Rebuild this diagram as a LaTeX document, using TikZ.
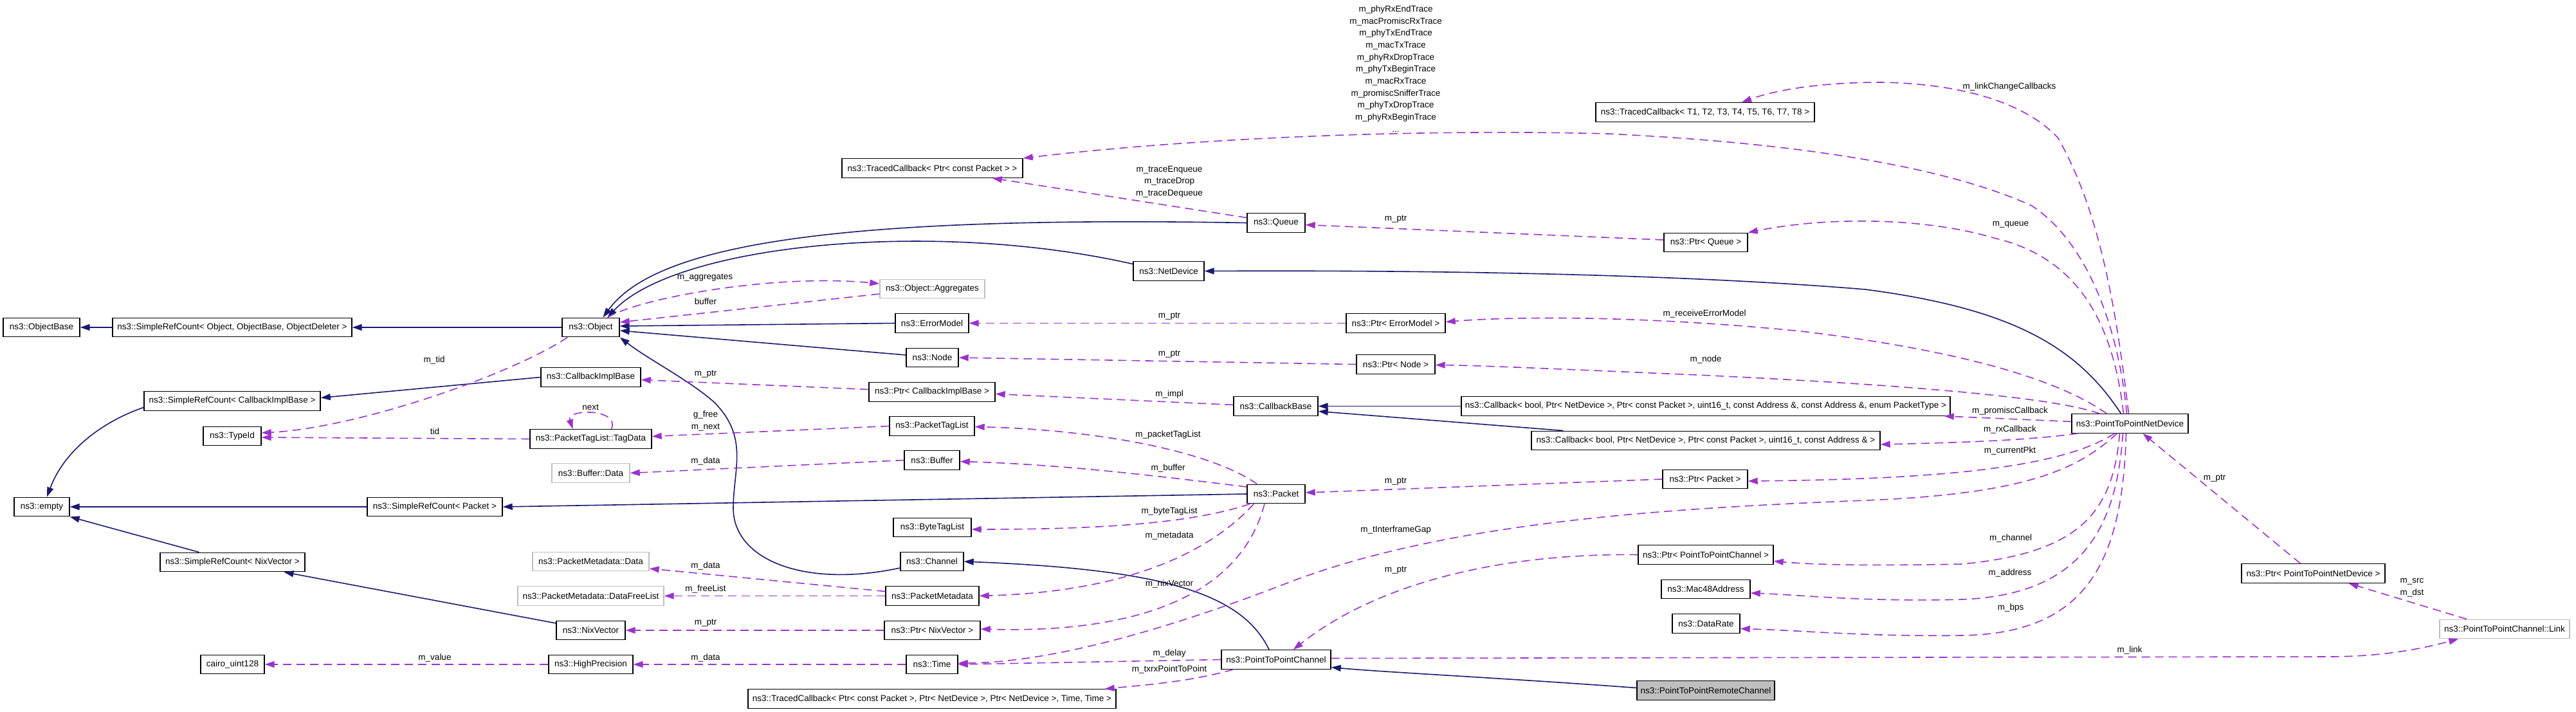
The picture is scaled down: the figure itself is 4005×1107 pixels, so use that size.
\documentclass[tikz,border=0pt]{standalone}
\usepackage{fontspec}
\newfontfamily\dfont{Liberation Sans}
\usetikzlibrary{arrows.meta,calc}
\definecolor{mblue}{HTML}{191970}
\definecolor{purp}{HTML}{9A32CD}
\definecolor{lgray}{HTML}{BFBFBF}
\begin{document}
\begin{tikzpicture}[x=0.5pt,y=-0.5pt,
  cls/.style={draw=black, line width=0.7pt, inner sep=0pt, minimum height=14.75pt, font=\dfont\fontsize{6.75}{8}\selectfont},
  gcls/.style={cls, draw=lgray},
  lbl/.style={inner sep=0pt, font=\dfont\fontsize{6.75}{9.33}\selectfont, align=center},
  inhedge/.style={draw=mblue, line width=0.8pt, -{Triangle[length=7.5pt,width=5pt]}},
  usedge/.style={draw=purp, line width=0.8pt, dash pattern=on 6.5pt off 4pt, -{Triangle[length=7.5pt,width=5pt]}}
]
\useasboundingbox (0,0) rectangle (4005,1107);
% ---------------- classes
\node[cls, minimum width=59.5pt] (objbase) at (64.5,509) {ns3::ObjectBase};
\node[cls, minimum width=186pt] (srcObj) at (361,509) {ns3::SimpleRefCount< Object, ObjectBase, ObjectDeleter >};
\node[cls, minimum width=44.5pt] (object) at (918.5,509) {ns3::Object};
\node[cls, minimum width=140.5pt] (tcpkt) at (1449.5,261.5) {ns3::TracedCallback< Ptr< const Packet > >};
\node[cls, minimum width=45pt] (queue) at (1984,346.5) {ns3::Queue};
\node[cls, minimum width=170pt] (tceight) at (2651,174.5) {ns3::TracedCallback< T1, T2, T3, T4, T5, T6, T7, T8 >};
\node[cls, minimum width=65pt] (ptrQueue) at (2652,377) {ns3::Ptr< Queue >};
\node[cls, minimum width=55pt] (netdev) at (1817,421.5) {ns3::NetDevice};
\node[gcls, minimum width=81.5pt] (aggr) at (1449.5,449) {ns3::Object::Aggregates};
\node[cls, minimum width=57pt] (errmodel) at (1449,502.5) {ns3::ErrorModel};
\node[cls, minimum width=77pt] (ptrErr) at (2170,502.5) {ns3::Ptr< ErrorModel >};
\node[cls, minimum width=40.5pt] (nnode) at (1449.5,556) {ns3::Node};
\node[cls, minimum width=61pt] (ptrNode) at (2170,566.5) {ns3::Ptr< Node >};
\node[cls, minimum width=77.5pt] (cbimpl) at (918.5,586.5) {ns3::CallbackImplBase};
\node[cls, minimum width=137pt] (srcCb) at (361,623.5) {ns3::SimpleRefCount< CallbackImplBase >};
\node[cls, minimum width=98pt] (ptrCb) at (1449,609.5) {ns3::Ptr< CallbackImplBase >};
\node[cls, minimum width=65.5pt] (cbbase) at (1983.5,631.5) {ns3::CallbackBase};
\node[cls, minimum width=380pt] (cbPromisc) at (2652,631.5) {ns3::Callback< bool, Ptr< NetDevice >, Ptr< const Packet >, uint16\_t, const Address \&, const Address \&, enum PacketType >};
\node[cls, minimum width=90.5pt] (p2pdev) at (3311.5,658.5) {ns3::PointToPointNetDevice};
\node[cls, minimum width=45pt] (typeid) at (361,678) {ns3::TypeId};
\node[cls, minimum width=94.5pt] (tagdata) at (918.5,682.5) {ns3::PacketTagList::TagData};
\node[cls, minimum width=66pt] (ptl) at (1449,662.5) {ns3::PacketTagList};
\node[cls, minimum width=271pt] (cbRx) at (2652,685) {ns3::Callback< bool, Ptr< NetDevice >, Ptr< const Packet >, uint16\_t, const Address \& >};
\node[gcls, minimum width=60.5pt] (bufdata) at (918.5,735.5) {ns3::Buffer::Data};
\node[cls, minimum width=43pt] (buffer) at (1449,715.5) {ns3::Buffer};
\node[cls, minimum width=66pt] (ptrPkt) at (2651,745) {ns3::Ptr< Packet >};
\node[cls, minimum width=45pt] (packet) at (1984,768) {ns3::Packet};
\node[cls, minimum width=43pt] (empty) at (65,788) {ns3::empty};
\node[cls, minimum width=105pt] (srcPkt) at (676,788) {ns3::SimpleRefCount< Packet >};
\node[cls, minimum width=60.5pt] (bytetag) at (1449.5,820) {ns3::ByteTagList};
\node[cls, minimum width=111.5pt] (ptrP2PDev) at (3596.5,891.5) {ns3::Ptr< PointToPointNetDevice >};
\node[cls, minimum width=105pt] (ptrP2PCh) at (2652,862.5) {ns3::Ptr< PointToPointChannel >};
\node[cls, minimum width=112.5pt] (srcNix) at (361.5,874) {ns3::SimpleRefCount< NixVector >};
\node[gcls, minimum width=90.5pt] (pmdata) at (918.5,873) {ns3::PacketMetadata::Data};
\node[cls, minimum width=49pt] (channel) at (1449,873) {ns3::Channel};
\node[cls, minimum width=69pt] (mac48) at (2652,916) {ns3::Mac48Address};
\node[gcls, minimum width=113.5pt] (pmfree) at (918.5,926.5) {ns3::PacketMetadata::DataFreeList};
\node[cls, minimum width=72.5pt] (pmeta) at (1449.5,926.5) {ns3::PacketMetadata};
\node[cls, minimum width=52.5pt] (datarate) at (2652.5,969.5) {ns3::DataRate};
\node[gcls, minimum width=101pt] (link) at (3894,978) {ns3::PointToPointChannel::Link};
\node[cls, minimum width=53.5pt] (nixvec) at (918.5,980) {ns3::NixVector};
\node[cls, minimum width=74.5pt] (ptrNix) at (1449.5,980) {ns3::Ptr< NixVector >};
\node[cls, minimum width=85pt] (p2pch) at (1984,1025.5) {ns3::PointToPointChannel};
\node[cls, minimum width=49.5pt] (cairo) at (361.5,1033) {cairo\_uint128};
\node[cls, minimum width=65.5pt] (highprec) at (918.5,1033) {ns3::HighPrecision};
\node[cls, minimum width=40pt] (time) at (1449,1033) {ns3::Time};
\node[cls, fill=lgray, minimum width=107pt] (remote) at (2652,1073.5) {ns3::PointToPointRemoteChannel};
\node[cls, minimum width=286pt] (tcfive) at (1449,1086.5) {ns3::TracedCallback< Ptr< const Packet >, Ptr< NetDevice >, Ptr< NetDevice >, Time, Time >};
% ---------------- inheritance
\draw[inhedge] (srcObj.west) -- (objbase.east);
\draw[inhedge] (object.west) -- (srcObj.east);
\draw[inhedge] (queue.west) .. controls (1300,335) and (1020,380) .. ($(object.north)+(19,0)$);
\draw[inhedge] ($(netdev.west)+(0,-11)$) .. controls (1450,340) and (1050,380) .. ($(object.north)+(26,0)$);
\draw[inhedge] (errmodel.west) -- ($(object.east)+(0,-2)$);
\draw[inhedge] ($(nnode.west)+(0,-4)$) -- ($(object.east)+(0,5)$);
\draw[inhedge] ($(channel.west)+(0,10)$) .. controls (1250,915) and (1140,870) .. (1140,790) .. controls (1140,730) and (1165,680) .. (1110,625) .. controls (1070,590) and (1010,560) .. (object.south east);
\draw[inhedge] ($(p2pdev.north)+(-14,0)$) .. controls (3230,540) and (3130,480) .. (2900,450) .. controls (2600,425) and (2200,420) .. (netdev.east);
\draw[inhedge] (cbimpl.west) -- ($(srcCb.east)+(0,-5)$);
\draw[inhedge] ($(srcCb.west)+(0,10)$) .. controls (160,655) and (100,700) .. ($(empty.north)+(8,0)$);
\draw[inhedge] (srcPkt.west) -- (empty.east);
\draw[inhedge] ($(srcNix.north)+(-52,0)$) -- (empty.south east);
\draw[inhedge] (packet.west) -- (srcPkt.east);
\draw[inhedge] ($(nixvec.west)+(0,-11)$) -- ($(srcNix.south)+(80,0)$);
\draw[inhedge] (cbPromisc.west) -- (cbbase.east);
\draw[inhedge] ($(cbRx.north west)+(50,0)$) -- ($(cbbase.east)+(0,8)$);
\draw[inhedge] ($(p2pch.north)+(-11,0)$) .. controls (1930,920) and (1800,885) .. (channel.east);
\draw[inhedge] ($(remote.west)+(0,-4)$) .. controls (2350,1055) and (2150,1045) .. ($(p2pch.east)+(0,12)$);
% ---------------- usage
\draw[usedge] ($(object.south west)+(9,0)$) .. controls (800,580) and (560,665) .. ($(typeid.east)+(0,-5)$);
\draw[usedge] (tagdata.west) -- ($(typeid.east)+(0,2)$);
\draw[usedge] ($(tagdata.north)+(32,0)$) .. controls (965,635) and (880,635) .. ($(tagdata.north)+(-28,0)$);
\draw[usedge] (ptl.west) -- ($(tagdata.east)+(0,-4)$);
\draw[usedge] ($(ptrCb.west)+(0,-4)$) -- ($(cbimpl.east)+(0,4)$);
\draw[usedge] ($(cbbase.west)+(0,-2)$) -- ($(ptrCb.east)+(0,3)$);
\draw[usedge] (ptrErr.west) -- (errmodel.east);
\draw[usedge] (ptrNode.west) -- (nnode.east);
\draw[usedge] ($(ptrQueue.west)+(0,-4)$) -- ($(queue.east)+(0,3)$);
\draw[usedge] ($(queue.west)+(0,-8)$) -- ($(tcpkt.south east)+(-48,0)$);
\draw[usedge] ($(p2pdev.north)+(-5,0)$) .. controls (3295,520) and (3250,380) .. (3159,320) .. controls (3050,270) and (2850,225) .. (2500,208) .. controls (2200,200) and (1850,215) .. (tcpkt.north east);
\draw[usedge] ($(p2pdev.north)+(-2,0)$) .. controls (3290,480) and (3265,330) .. (3200,215) .. controls (3150,160) and (3050,130) .. (2925,128) .. controls (2830,128) and (2760,140) .. ($(tceight.north)+(57,0)$);
\draw[usedge] ($(p2pdev.north)+(-10,0)$) .. controls (3285,500) and (3230,400) .. (3100,370) .. controls (3000,340) and (2850,335) .. (ptrQueue.north east);
\draw[usedge] ($(p2pdev.north west)+(55,0)$) .. controls (3200,590) and (3050,545) .. (2800,515) .. controls (2550,490) and (2350,492) .. ($(ptrErr.east)+(0,-2)$);
\draw[usedge] ($(p2pdev.north west)+(44,0)$) .. controls (3200,620) and (3000,600) .. (2640,583) .. controls (2450,575) and (2300,568) .. ($(ptrNode.east)+(0,1)$);
\draw[usedge] ($(p2pdev.west)+(0,-3)$) -- ($(cbPromisc.south east)+(-10,0)$);
\draw[usedge] ($(p2pdev.south west)+(10,0)$) .. controls (3150,685) and (3050,688) .. ($(cbRx.east)+(0,6)$);
\draw[usedge] ($(p2pdev.south)+(-24,0)$) .. controls (3200,730) and (3000,745) .. ($(ptrPkt.east)+(0,3)$);
\draw[usedge] (ptrPkt.west) -- ($(packet.east)+(0,-2)$);
\draw[usedge] ($(p2pdev.south)+(-20,0)$) .. controls (3230,730) and (3150,768) .. (2900,778) .. controls (2600,790) and (2250,810) .. (2000,907) .. controls (1850,965) and (1650,1030) .. ($(time.east)+(0,-2)$);
\draw[usedge] ($(p2pdev.south)+(-16,0)$) .. controls (3285,800) and (3230,860) .. (3050,877) .. controls (2900,880) and (2820,878) .. ($(ptrP2PCh.east)+(0,10)$);
\draw[usedge] ($(p2pdev.south)+(-11,0)$) .. controls (3290,830) and (3230,925) .. (3050,932) .. controls (2900,936) and (2800,925) .. ($(mac48.east)+(0,6)$);
\draw[usedge] ($(p2pdev.south)+(-6,0)$) .. controls (3300,880) and (3240,985) .. (3050,988) .. controls (2900,990) and (2800,980) .. ($(datarate.east)+(0,8)$);
\draw[usedge] ($(ptrP2PDev.north)+(-20,0)$) -- ($(p2pdev.south)+(20,0)$);
\draw[usedge] ($(link.north)+(-59,0)$) -- ($(ptrP2PDev.south)+(55,0)$);
\draw[usedge] ($(p2pch.east)+(0,-2)$) -- (3620,1021) .. controls (3700,1021) and (3760,1010) .. ($(link.south west)+(30,0)$);
\draw[usedge] (p2pch.west) -- (time.east);
\draw[usedge] ($(p2pch.south west)+(19,0)$) .. controls (1850,1060) and (1780,1065) .. ($(tcfive.north east)+(-18,0)$);
\draw[usedge] (ptrP2PCh.west) .. controls (2350,860) and (2150,900) .. ($(p2pch.north east)+(-59,0)$);
\draw[usedge] ($(packet.north west)+(16,0)$) .. controls (1880,700) and (1700,668) .. ($(ptl.east)+(0,1)$);
\draw[usedge] ($(packet.west)+(0,-11)$) .. controls (1800,740) and (1650,722) .. ($(buffer.east)+(0,2)$);
\draw[usedge] ($(packet.south west)+(5,0)$) .. controls (1850,815) and (1700,823) .. ($(bytetag.east)+(0,3)$);
\draw[usedge] ($(packet.south west)+(11,0)$) .. controls (1880,860) and (1750,920) .. (pmeta.east);
\draw[usedge] ($(packet.south)+(-18,0)$) .. controls (1930,920) and (1780,985) .. ($(ptrNix.east)+(0,-2)$);
\draw[usedge] (ptrNix.west) -- (nixvec.east);
\draw[usedge] (time.west) -- (highprec.east);
\draw[usedge] (highprec.west) -- (cairo.east);
\draw[usedge] ($(pmeta.west)+(0,-7)$) -- ($(pmdata.east)+(0,11)$);
\draw[usedge] (pmeta.west) -- (pmfree.east);
\draw[usedge] (buffer.west) -- (bufdata.east);
\draw[usedge] ($(object.north east)+(-19,0)$) .. controls (990,465) and (1200,425) .. ($(aggr.west)+(0,-8)$);
\draw[usedge] ($(aggr.west)+(0,8)$) -- ($(object.east)+(0,-8)$);
% ---------------- labels
\node[lbl] (lb1) at (2170,107) {m\_phyRxEndTrace\\m\_macPromiscRxTrace\\m\_phyTxEndTrace\\m\_macTxTrace\\m\_phyRxDropTrace\\m\_phyTxBeginTrace\\m\_macRxTrace\\m\_promiscSnifferTrace\\m\_phyTxDropTrace\\m\_phyRxBeginTrace\\...};
\node[lbl] (lb2) at (1818,282.5) {m\_traceEnqueue\\m\_traceDrop\\m\_traceDequeue};
\node[lbl] (lb3) at (3124,135) {m\_linkChangeCallbacks};
\node[lbl] (lb4) at (2170,341) {m\_ptr};
\node[lbl] (lb5) at (3126,349) {m\_queue};
\node[lbl] (lb6) at (1096,432) {m\_aggregates};
\node[lbl] (lb7) at (1097,469) {buffer};
\node[lbl] (lb8) at (1818,492) {m\_ptr};
\node[lbl] (lb9) at (2650,488) {m\_receiveErrorModel};
\node[lbl] (lb10) at (1818,551) {m\_ptr};
\node[lbl] (lb11) at (2652,559) {m\_node};
\node[lbl] (lb12) at (675,560) {m\_tid};
\node[lbl] (lb13) at (1097,582) {m\_ptr};
\node[lbl] (lb14) at (1818,613) {m\_impl};
\node[lbl] (lb15) at (918,633) {next};
\node[lbl] (lb16) at (3125,639) {m\_promiscCallback};
\node[lbl] (lb17) at (1097,654.5) {g\_free\\m\_next};
\node[lbl] (lb18) at (676,671) {tid};
\node[lbl] (lb19) at (3125,668) {m\_rxCallback};
\node[lbl] (lb20) at (1816,676) {m\_packetTagList};
\node[lbl] (lb21) at (3125,701) {m\_currentPkt};
\node[lbl] (lb22) at (1097,717) {m\_data};
\node[lbl] (lb23) at (1816,728) {m\_buffer};
\node[lbl] (lb24) at (3443,744) {m\_ptr};
\node[lbl] (lb25) at (2170,749) {m\_ptr};
\node[lbl] (lb26) at (1818,795) {m\_byteTagList};
\node[lbl] (lb27) at (2170,824) {m\_tInterframeGap};
\node[lbl] (lb28) at (1818,833) {m\_metadata};
\node[lbl] (lb29) at (3126,837) {m\_channel};
\node[lbl] (lb30) at (1097,880) {m\_data};
\node[lbl] (lb31) at (2170,887) {m\_ptr};
\node[lbl] (lb32) at (3125,891) {m\_address};
\node[lbl] (lb33) at (1818,908) {m\_nixVector};
\node[lbl] (lb34) at (3750,913.5) {m\_src\\m\_dst};
\node[lbl] (lb35) at (1097,916) {m\_freeList};
\node[lbl] (lb36) at (3126,945) {m\_bps};
\node[lbl] (lb37) at (1097,969) {m\_ptr};
\node[lbl] (lb38) at (3311,1011) {m\_link};
\node[lbl] (lb39) at (1818,1016) {m\_delay};
\node[lbl] (lb40) at (676,1023) {m\_value};
\node[lbl] (lb41) at (1097,1023) {m\_data};
\node[lbl] (lb42) at (1818,1041) {m\_txrxPointToPoint};
\end{tikzpicture}
\end{document}
